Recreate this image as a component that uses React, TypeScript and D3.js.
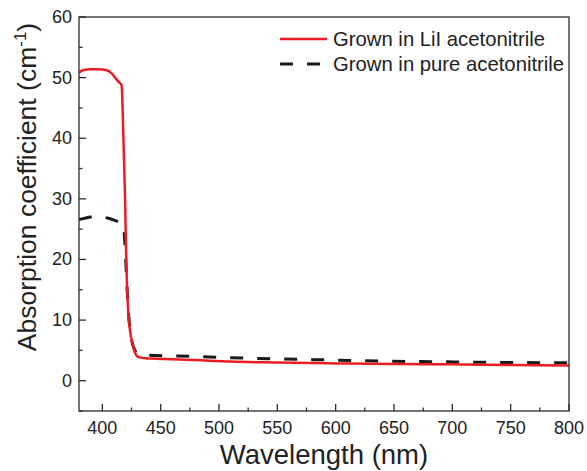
import React from "react";
import * as d3 from "d3";

// red curve: grown in LiI acetonitrile
const liiWavelength = [380, 382, 385, 390, 395, 400, 403, 406, 409, 411, 414, 416.5, 417.5, 418.5, 419.5, 420.5, 421.5, 422.5, 423.7, 425, 426.6, 428, 430, 433, 437, 441, 460, 480, 510, 550, 600, 650, 700, 750, 800];
const liiValues = [50.8, 51.1, 51.3, 51.4, 51.4, 51.35, 51.25, 51.0, 50.5, 50.0, 49.3, 48.8, 44, 37, 30, 20, 14, 10.5, 8.3, 6.8, 5.5, 4.6, 4.0, 3.8, 3.7, 3.65, 3.55, 3.4, 3.15, 3.0, 2.85, 2.75, 2.7, 2.6, 2.5];

// dashed curve: grown in pure acetonitrile
const pureWavelength = [380, 385, 390, 395, 400, 405, 410, 415, 418, 419.5, 421, 422.5, 424, 426, 428, 430, 433, 440, 460, 500, 550, 600, 650, 700, 750, 800];
const pureValues = [26.6, 26.8, 27.0, 27.1, 27.0, 26.8, 26.5, 26.1, 25.8, 22, 16, 11, 8, 6, 5, 4.5, 4.3, 4.2, 4.1, 3.85, 3.6, 3.4, 3.2, 3.1, 3.0, 2.95];

const xTicks = [400, 450, 500, 550, 600, 650, 700, 750, 800];
const yTicks = [0, 10, 20, 30, 40, 50, 60];
const seriesNames = ["Grown in LiI acetonitrile", "Grown in pure acetonitrile"];

const W = 587, H = 471;
const m = { top: 17, right: 18, bottom: 60, left: 79 };
const font = "Liberation Sans, Arial, Helvetica, sans-serif";
const axisColor = "#2b2b2b";

const App = () => {
  const x = d3.scaleLinear().domain([380, 800]).range([m.left, W - m.right]);
  const y = d3.scaleLinear().domain([-5, 60]).range([H - m.bottom, m.top]);
  const line = d3.line<[number, number]>()
    .x(d => x(d[0]))
    .y(d => y(d[1]))
    .curve(d3.curveMonotoneX);

  const lii = liiWavelength.map((w, i) => [w, liiValues[i]] as [number, number]);
  const pure = pureWavelength.map((w, i) => [w, pureValues[i]] as [number, number]);

  const xMinor = d3.range(400, 800, 25).filter(v => v % 50 !== 0);
  const yMinor = d3.range(-5, 60, 5).filter(v => v % 10 !== 0);
  const x0 = m.left, x1 = W - m.right, y0 = H - m.bottom, y1 = m.top;

  return (
    <svg width={W} height={H} style={{ position: "absolute", left: 0, top: 0 }} fontFamily={font}>
      <defs>
        <clipPath id="plot">
          <rect x={x0} y={y1} width={x1 - x0} height={y0 - y1} />
        </clipPath>
      </defs>
      <g clipPath="url(#plot)">
        <path d={line(pure) || ""} fill="none" stroke="#1a1a1a" strokeWidth={3} strokeDasharray="13,14" />
        <path d={line(lii) || ""} fill="none" stroke="#ed1c24" strokeWidth={2.5} />
      </g>
      {/* frame */}
      <rect x={x0} y={y1} width={x1 - x0} height={y0 - y1} fill="none" stroke={axisColor} strokeWidth={1.3} />
      {/* x ticks */}
      {xTicks.map(t => (
        <g key={"x" + t}>
          <line x1={x(t)} x2={x(t)} y1={y0} y2={y0 - 7} stroke={axisColor} strokeWidth={1.3} />
          <text x={x(t)} y={428} textAnchor="middle" dominantBaseline="central" fontSize={18} fill="#222">{t}</text>
        </g>
      ))}
      {xMinor.map(t => (
        <line key={"xm" + t} x1={x(t)} x2={x(t)} y1={y0} y2={y0 - 3.5} stroke={axisColor} strokeWidth={1.3} />
      ))}
      {/* y ticks */}
      {yTicks.map(t => (
        <g key={"y" + t}>
          <line x1={x0} x2={x0 + 7} y1={y(t)} y2={y(t)} stroke={axisColor} strokeWidth={1.3} />
          <text x={72} y={y(t)} textAnchor="end" dominantBaseline="central" fontSize={18} fill="#222">{t}</text>
        </g>
      ))}
      {yMinor.map(t => (
        <line key={"ym" + t} x1={x0} x2={x0 + 3.5} y1={y(t)} y2={y(t)} stroke={axisColor} strokeWidth={1.3} />
      ))}
      {/* axis titles */}
      <text x={(x0 + x1) / 2} y={464} textAnchor="middle" fontSize={27.5} fill="#222">Wavelength (nm)</text>
      <text transform={`translate(36, 187) rotate(-90)`} textAnchor="middle" fontSize={26.5} fill="#222">
        Absorption coefficient (cm<tspan fontSize={17} dy={-10}>-1</tspan><tspan dy={10}>)</tspan>
      </text>
      {/* legend */}
      <line x1={280} x2={327} y1={39} y2={39} stroke="#ed1c24" strokeWidth={2.5} />
      <text x={333} y={46} fontSize={20.3} fill="#222">{seriesNames[0]}</text>
      <line x1={280} x2={321} y1={64} y2={64} stroke="#1a1a1a" strokeWidth={3} strokeDasharray="13,14" />
      <text x={333} y={71} fontSize={20.3} fill="#222">{seriesNames[1]}</text>
    </svg>
  );
};

export default App;
